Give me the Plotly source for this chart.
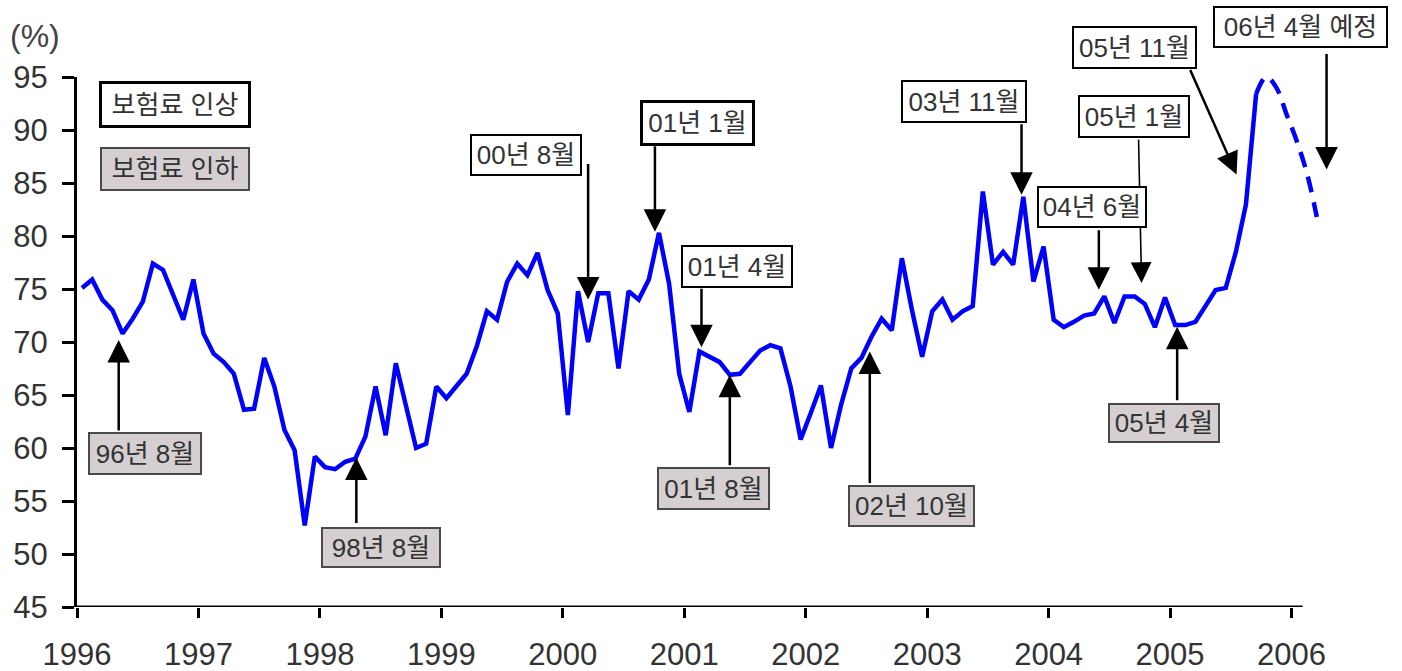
import plotly.graph_objects as go

# Monthly loss ratio (%), month index 0 = April 1996
loss_ratio = [
    75.1, 75.9, 74.0, 73.0, 70.8, 72.2, 73.8, 77.4, 76.8, 74.4, 72.1, 75.9,
    70.8, 68.9, 68.1, 67.0, 63.6, 63.7, 68.5, 65.8, 61.7, 59.8, 52.7, 59.2,
    58.2, 58.0, 58.7, 59.0, 61.1, 65.8, 61.2, 68.0, 64.2, 60.0, 60.4, 65.8,
    64.7, 65.9, 67.0, 69.6, 72.9, 72.1, 75.7, 77.4, 76.3, 78.4, 74.9, 72.7,
    63.1, 74.8, 70.0, 74.6, 74.6, 67.5, 74.8, 74.0, 75.9, 80.3, 75.5, 67.0,
    63.4, 69.1, 68.6, 68.1, 66.9, 67.0, 68.1, 69.2, 69.7, 69.4, 65.8, 60.8,
    63.3, 65.9, 60.0, 64.1, 67.5, 68.5, 70.5, 72.2, 71.1, 77.9, 73.0, 68.6,
    72.9, 74.0, 72.1, 72.9, 73.4, 84.2, 77.3, 78.5, 77.3, 83.7, 75.7, 79.0,
    72.1, 71.4, 71.9, 72.5, 72.7, 74.3, 71.8, 74.3, 74.3, 73.6, 71.4, 74.2,
    71.6, 71.6, 71.9, 73.5, 74.9, 75.1, 78.5, 83.0, 93.4,
]
# Projection continuing from the last observed month
forecast = [93.4, 95.0, 94.0, 91.5, 89.0, 86.0, 81.8]

years = ["1996", "1997", "1998", "1999", "2000", "2001",
         "2002", "2003", "2004", "2005", "2006"]
y_ticks = [45, 50, 55, 60, 65, 70, 75, 80, 85, 90, 95]

months = list(range(len(loss_ratio)))
forecast_months = list(range(len(loss_ratio) - 1, len(loss_ratio) - 1 + len(forecast)))
year_ticks = [-0.5 + 12 * k for k in range(len(years))]

X_RANGE = [-0.5, 123.3]
Y_RANGE = [45, 95]


def to_paper(x, y):
    """Axis units -> paper fractions (lets boxes sit outside the axis range)."""
    px = (x - X_RANGE[0]) / (X_RANGE[1] - X_RANGE[0])
    py = (y - Y_RANGE[0]) / (Y_RANGE[1] - Y_RANGE[0])
    return px, py


FONT = "Liberation Sans, Noto Sans CJK KR, sans-serif"
TXT = "#333333"
RAISE_BG, RAISE_BORDER = "#ffffff", "#000000"
CUT_BG, CUT_BORDER = "#d5cfd1", "#4a4a4a"

fig = go.Figure()
fig.add_trace(go.Scatter(
    x=months, y=loss_ratio, mode="lines",
    line=dict(color="#0000ff", width=4.5), hoverinfo="skip", showlegend=False,
))
fig.add_trace(go.Scatter(
    x=forecast_months, y=forecast, mode="lines",
    line=dict(color="#0000ff", width=4.5, dash="16px,10px", shape="spline", smoothing=1),
    hoverinfo="skip", showlegend=False,
))

# premium change events: label, raise/cut, arrow head, arrow tail offset (px), box centre, box size
events = [
    ("96년 8월", "cut", (3.62, 70.2), (0, 92), (6.19, 59.5), (114, 43)),
    ("98년 8월", "cut", (27.1, 59.1), (0, 67), (29.5, 50.6), (120, 41)),
    ("00년 8월", "raise", (50.0, 74.0), (0, -137), (43.84, 87.6), (112, 42)),
    ("01년 1월", "raise", (56.6, 80.4), (0, -87), (60.77, 90.7), (113, 44)),
    ("01년 4월", "raise", (61.2, 69.5), (0, -60), (64.69, 77.15), (112, 43)),
    ("01년 8월", "cut", (64.0, 66.9), (0, 92), (62.37, 56.2), (113, 43)),
    ("02년 10월", "cut", (77.83, 69.1), (0, 133), (81.93, 54.55), (127, 42)),
    ("03년 11월", "raise", (92.82, 83.9), (0, -72), (87.1, 92.7), (126, 43)),
    ("05년 1월", "raise", (104.68, 75.57), (-3, -145), (103.94, 91.3), (112, 43)),
    ("04년 6월", "raise", (100.46, 74.93), (0, -61), (99.74, 82.7), (110, 42)),
    ("05년 4월", "cut", (108.2, 71.44), (0, 75), (106.88, 62.37), (112, 40)),
    ("05년 11월", "raise", (114.07, 85.8), (-47, -106), (104.02, 97.8), (125, 43)),
    ("06년 4월 예정", "raise", (122.96, 86.27), (0, -117), (120.4, 99.72), (175, 42)),
]

annotations = []
for label, kind, head, tail, centre, size in events:
    thin = label == "05년 1월"
    annotations.append(dict(
        x=head[0], y=head[1], xref="x", yref="y", ax=tail[0], ay=tail[1],
        text="", showarrow=True, arrowhead=2, arrowsize=2.6 if thin else 1.8,
        arrowwidth=1.6 if thin else 2.5, arrowcolor="#000000",
    ))
for label, kind, head, tail, centre, size in events:
    raise_ = kind == "raise"
    bx, by = to_paper(*centre)
    annotations.append(dict(
        x=bx, y=by, xref="paper", yref="paper", xanchor="center", yanchor="middle",
        text=label, showarrow=False,
        font=dict(family=FONT, size=26, color=TXT),
        bgcolor=RAISE_BG if raise_ else CUT_BG,
        bordercolor=RAISE_BORDER if raise_ else CUT_BORDER,
        borderwidth=3 if label == "01년 1월" else 2,
        borderpad=2, width=size[0] - 8, height=size[1] - 8,
    ))

# key boxes and unit label
key = [
    ("보험료 인상", (9.15, 92.45), RAISE_BG, RAISE_BORDER, 3, 37),
    ("보험료 인하", (9.15, 86.36), CUT_BG, CUT_BORDER, 2, 36),
]
for text, pos, bg, border, bw, h in key:
    kx, ky = to_paper(*pos)
    annotations.append(dict(
        x=kx, y=ky, xref="paper", yref="paper", xanchor="center", yanchor="middle",
        text=text, showarrow=False,
        font=dict(family=FONT, size=26, color=TXT), bgcolor=bg,
        bordercolor=border, borderwidth=bw, borderpad=2, width=142, height=h,
    ))
ux, uy = to_paper(-4.65, 98.9)
annotations.append(dict(
    x=ux, y=uy, xref="paper", yref="paper", xanchor="center", yanchor="middle",
    text="(%)", showarrow=False,
    font=dict(family=FONT, size=32, color="#444444"),
))

fig.update_layout(
    width=1402, height=671,
    margin=dict(l=77, r=72, t=77, b=64),
    paper_bgcolor="#ffffff", plot_bgcolor="#ffffff",
    annotations=annotations,
    shapes=[dict(type="line", xref="x", yref="y", x0=-0.5, x1=120.6, y0=45, y1=45,
                 line=dict(color="#000000", width=3), layer="above")],
)
fig.update_xaxes(
    range=X_RANGE, showgrid=False, zeroline=False, showline=False, automargin=False,
    tickmode="array", tickvals=year_ticks, ticktext=years,
    ticks="outside", ticklen=10, tickwidth=2.5, tickcolor="#000000",
    tickfont=dict(family=FONT, size=31, color=TXT), ticklabelstandoff=10,
)
fig.update_yaxes(
    range=Y_RANGE, showgrid=False, zeroline=False, showline=True, automargin=False,
    linecolor="#000000", linewidth=3,
    tickmode="array", tickvals=y_ticks,
    ticks="outside", ticklen=12, tickwidth=2.5, tickcolor="#000000",
    tickfont=dict(family=FONT, size=31, color=TXT), ticklabelstandoff=8,
)

fig.write_html("out.html")
